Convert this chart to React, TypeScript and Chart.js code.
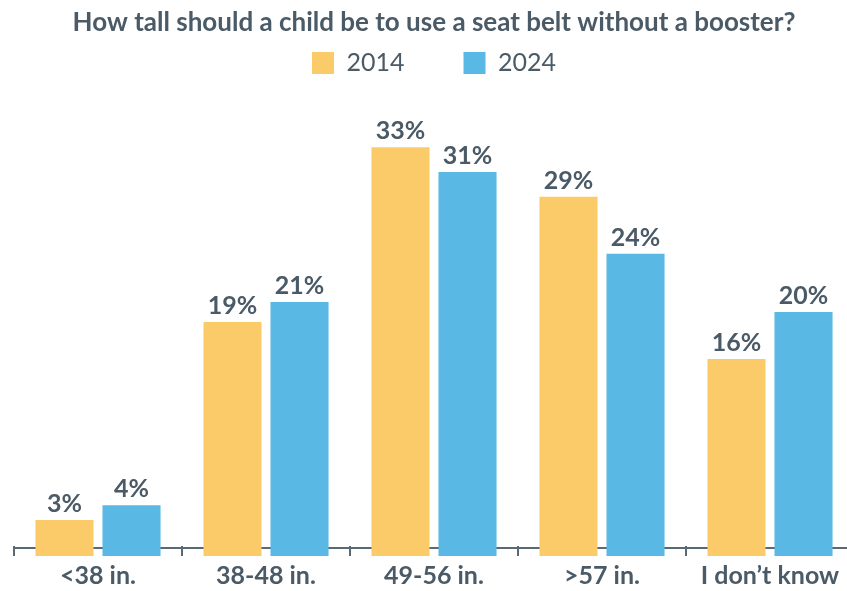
import React, { useEffect, useRef } from "react";
import { Chart, registerables } from "chart.js";

Chart.register(...registerables);

const TITLE = "How tall should a child be to use a seat belt without a booster?";
const CATEGORIES = ["<38 in.", "38-48 in.", "49-56 in.", ">57 in.", "I don\u2019t know"];
// bar heights; labels show the rounded percentages
const SERIES_2014 = [2.9, 18.9, 33, 29, 15.9];
const SERIES_2024 = [4.1, 20.5, 31, 24.4, 19.7];
const SERIES_LABELS = ["2014", "2024"];

const YELLOW = "#FCCB69";
const BLUE = "#59B9E4";
const TEXT = "#4A5A66";
const AXIS = "#5A6A74";
const FONT = "Lato";

const valueLabels = {
  id: "valueLabels",
  afterDatasetsDraw(chart: any) {
    const ctx = chart.ctx;
    ctx.save();
    ctx.font = `bold 25px ${FONT}`;
    ctx.fillStyle = TEXT;
    ctx.textAlign = "center";
    ctx.textBaseline = "alphabetic";
    chart.data.datasets.forEach((ds: any, di: number) => {
      const meta = chart.getDatasetMeta(di);
      meta.data.forEach((bar: any, i: number) => {
        ctx.fillText(`${Math.round(ds.data[i])}%`, bar.x, bar.y - 8);
      });
    });
    ctx.restore();
  },
};

const boundaryTicks = {
  id: "boundaryTicks",
  afterDraw(chart: any) {
    const ctx = chart.ctx;
    const x = chart.scales.x;
    const bottom = chart.chartArea.bottom;
    ctx.save();
    ctx.strokeStyle = AXIS;
    ctx.lineWidth = 2;
    for (let i = 0; i <= CATEGORIES.length; i++) {
      const px = Math.round(x.getPixelForValue(i - 0.5));
      ctx.beginPath();
      ctx.moveTo(px, bottom);
      ctx.lineTo(px, bottom - 10);
      ctx.stroke();
    }
    ctx.restore();
  },
};

export default function App() {
  const ref = useRef<HTMLCanvasElement>(null);
  useEffect(() => {
    if (!ref.current) return;
    const chart = new Chart(ref.current, {
      type: "bar",
      data: {
        labels: CATEGORIES,
        datasets: [
          { label: SERIES_LABELS[0], data: SERIES_2014, backgroundColor: YELLOW, categoryPercentage: 0.798, barPercentage: 0.866 },
          { label: SERIES_LABELS[1], data: SERIES_2024, backgroundColor: BLUE, categoryPercentage: 0.798, barPercentage: 0.866 },
        ],
      },
      options: {
        responsive: false,
        animation: false,
        layout: { padding: { left: 14, right: 8, top: 0, bottom: 0 } },
        plugins: {
          title: {
            display: true,
            text: TITLE,
            color: TEXT,
            font: { family: FONT, size: 26, weight: "bold", lineHeight: 1.2 },
            padding: { top: 7, bottom: -46.7 },
          },
          legend: {
            display: true,
            labels: {
              color: TEXT,
              font: { family: FONT, size: 25 },
              boxWidth: 22,
              boxHeight: 22,
              padding: 59,
            },
          },
          tooltip: { enabled: false },
        },
        scales: {
          x: {
            grid: { display: false, drawTicks: false },
            border: { display: true, color: AXIS, width: 2 },
            ticks: { color: TEXT, font: { family: FONT, size: 25, weight: "bold" }, padding: 13 },
          },
          y: { display: false, min: 0, max: 37.3 },
        },
      },
      plugins: [valueLabels, boundaryTicks],
    });
    return () => chart.destroy();
  }, []);
  return (
    <div style={{ position: "fixed", left: 0, top: 0, width: 862, height: 612, background: "#fff" }}>
      <canvas ref={ref} width={862} height={612} style={{ display: "block" }} />
    </div>
  );
}
